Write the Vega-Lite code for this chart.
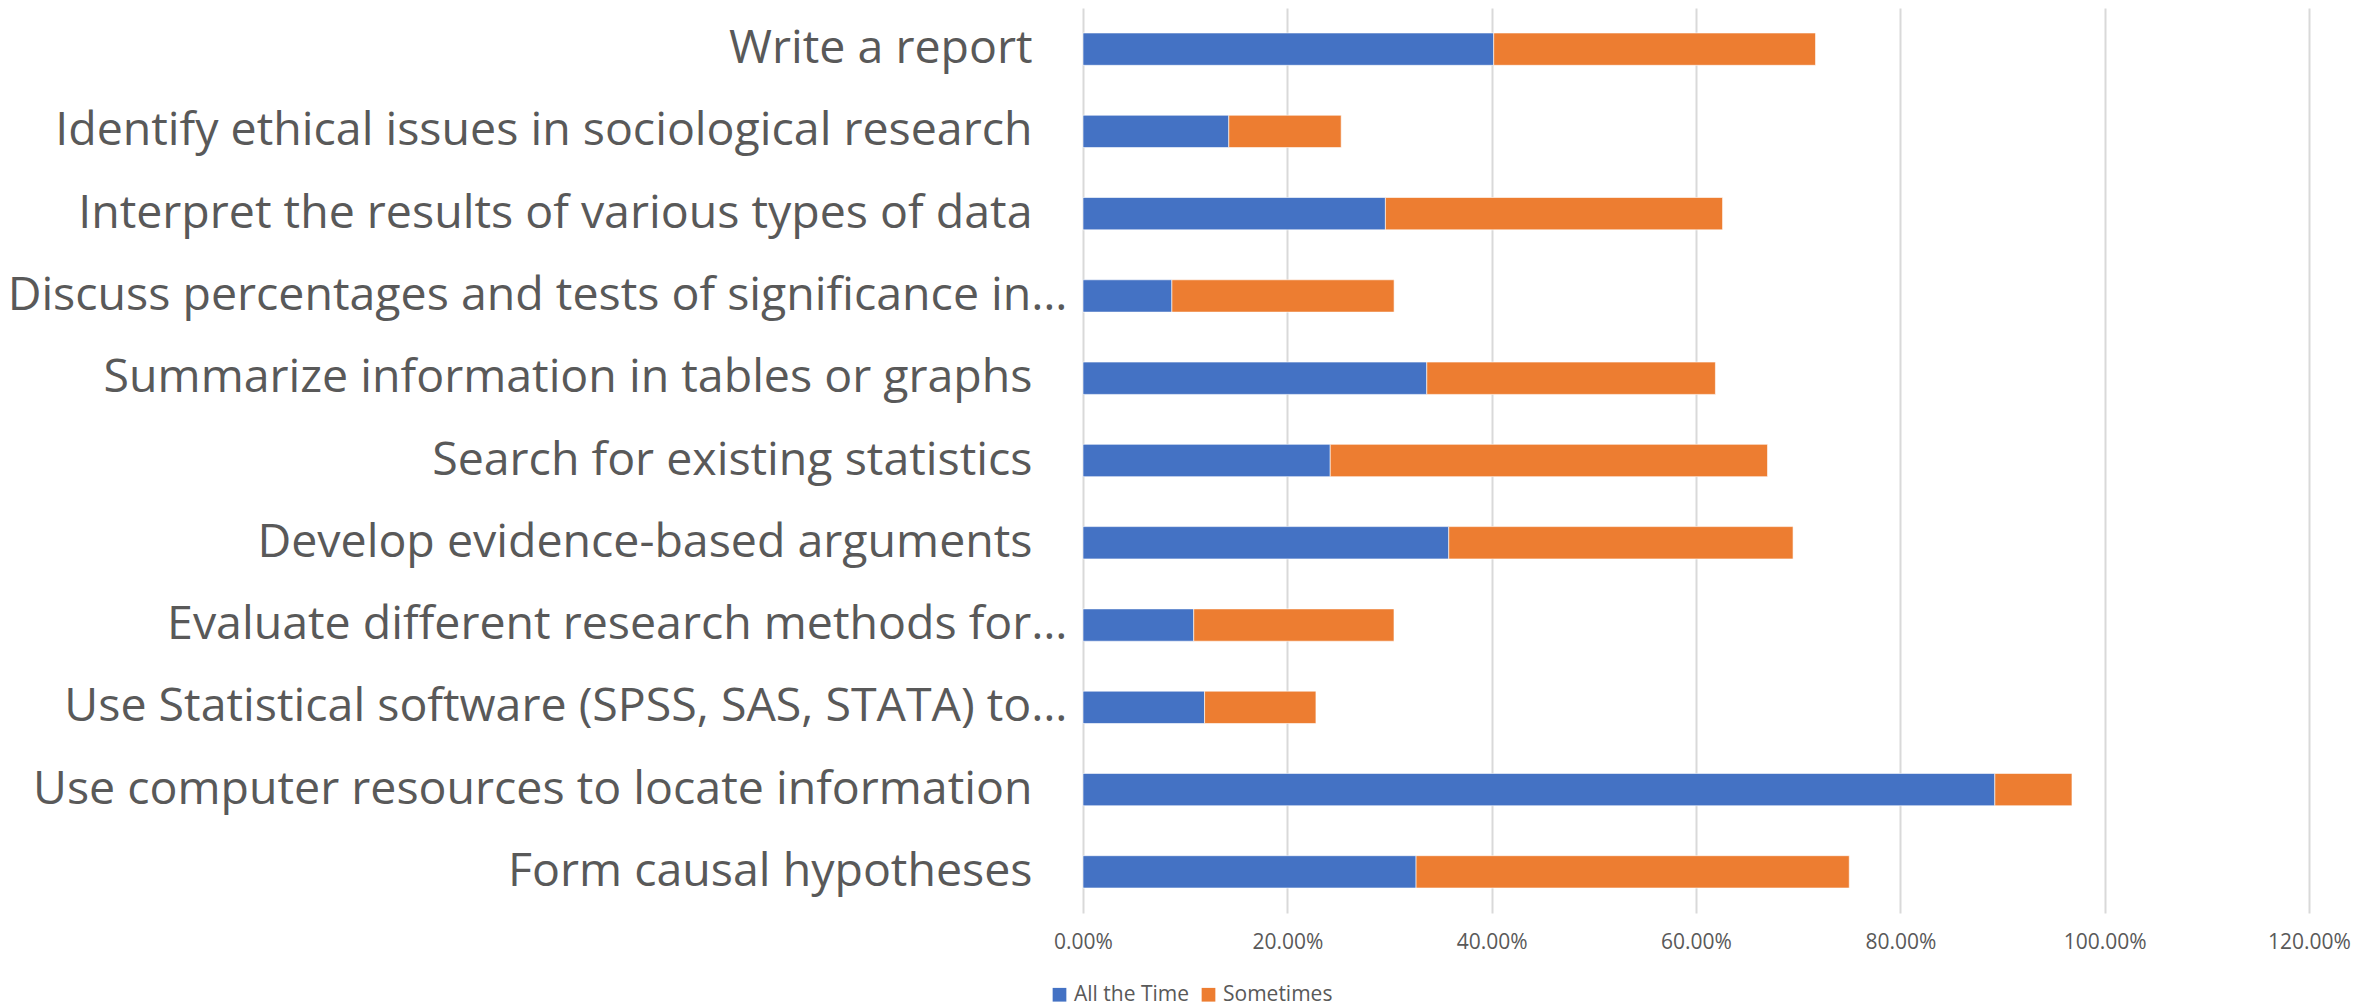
{
  "$schema": "https://vega.github.io/schema/vega-lite/v6.json",
  "width": 1226,
  "height": 905,
  "autosize": "none",
  "padding": {"left": 1083, "top": 8, "right": 70, "bottom": 94},
  "background": "#ffffff",
  "config": {
    "view": {"stroke": null},
    "font": "Open Sans"
  },
  "data": {
    "values": [
      {"skill": "Write a report", "response": "All the Time", "value": 0.402},
      {"skill": "Write a report", "response": "Sometimes", "value": 0.315},
      {"skill": "Identify ethical issues in sociological research", "response": "All the Time", "value": 0.1427},
      {"skill": "Identify ethical issues in sociological research", "response": "Sometimes", "value": 0.110},
      {"skill": "Interpret the results of various types of data", "response": "All the Time", "value": 0.296},
      {"skill": "Interpret the results of various types of data", "response": "Sometimes", "value": 0.330},
      {"skill": "Discuss percentages and tests of significance in…", "response": "All the Time", "value": 0.087},
      {"skill": "Discuss percentages and tests of significance in…", "response": "Sometimes", "value": 0.2175},
      {"skill": "Summarize information in tables or graphs", "response": "All the Time", "value": 0.3365},
      {"skill": "Summarize information in tables or graphs", "response": "Sometimes", "value": 0.2825},
      {"skill": "Search for existing statistics", "response": "All the Time", "value": 0.242},
      {"skill": "Search for existing statistics", "response": "Sometimes", "value": 0.428},
      {"skill": "Develop evidence-based arguments", "response": "All the Time", "value": 0.358},
      {"skill": "Develop evidence-based arguments", "response": "Sometimes", "value": 0.337},
      {"skill": "Evaluate different research methods for…", "response": "All the Time", "value": 0.1084},
      {"skill": "Evaluate different research methods for…", "response": "Sometimes", "value": 0.196},
      {"skill": "Use Statistical software (SPSS, SAS, STATA) to…", "response": "All the Time", "value": 0.119},
      {"skill": "Use Statistical software (SPSS, SAS, STATA) to…", "response": "Sometimes", "value": 0.109},
      {"skill": "Use computer resources to locate information", "response": "All the Time", "value": 0.8925},
      {"skill": "Use computer resources to locate information", "response": "Sometimes", "value": 0.0755},
      {"skill": "Form causal hypotheses", "response": "All the Time", "value": 0.326},
      {"skill": "Form causal hypotheses", "response": "Sometimes", "value": 0.424}
    ]
  },
  "mark": {"type": "bar", "stroke": "#ffffff", "strokeWidth": 1, "strokeOpacity": 0.6},
  "encoding": {
    "y": {
      "field": "skill",
      "type": "nominal",
      "sort": null,
      "title": null,
      "scale": {"paddingInner": 0.607, "paddingOuter": 0.3035},
      "axis": {
        "domain": false,
        "ticks": false,
        "grid": false,
        "labelFont": "Open Sans",
        "labelFontSize": 46.5,
        "labelColor": "#595959",
        "labelLimit": 1100,
        "labelPadding": {"condition": {"test": "indexof(datum.label, '…') >= 0", "value": 16}, "value": 51}
      }
    },
    "x": {
      "field": "value",
      "type": "quantitative",
      "stack": "zero",
      "title": null,
      "scale": {"domain": [0, 1.2], "nice": false},
      "axis": {
        "values": [0, 0.2, 0.4, 0.6, 0.8, 1.0, 1.2],
        "format": ".2%",
        "domain": false,
        "ticks": false,
        "grid": true,
        "gridColor": "#d9d9d9",
        "gridWidth": 2,
        "labelFont": "Open Sans",
        "labelFontSize": 21,
        "labelColor": "#595959",
        "labelPadding": 18,
        "labelFlush": false
      }
    },
    "color": {
      "field": "response",
      "type": "nominal",
      "scale": {"domain": ["All the Time", "Sometimes"], "range": ["#4472C4", "#ED7D31"]},
      "legend": {
        "title": null,
        "orient": "none",
        "direction": "horizontal",
        "legendX": -34,
        "legendY": 976,
        "padding": 0,
        "symbolType": "square",
        "symbolSize": 188,
        "symbolStrokeWidth": 0,
        "labelFont": "Open Sans",
        "labelFontSize": 21,
        "labelColor": "#595959",
        "labelOffset": 4,
        "columnPadding": 8
      }
    },
    "order": {"field": "response", "sort": "ascending"}
  }
}
